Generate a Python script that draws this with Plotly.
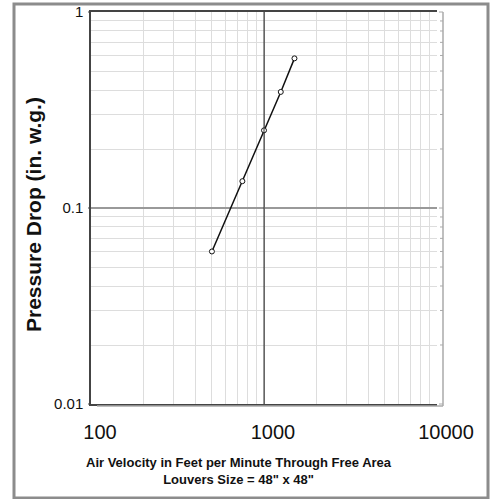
import math
import plotly.graph_objects as go

# Data
velocity_fpm = [500, 750, 1000, 1250, 1500]
pressure_drop = [0.06, 0.137, 0.249, 0.391, 0.58]

x_major = [100, 1000, 10000]
x_major_text = ["100", "1000", "10000"]
y_major = [0.01, 0.1, 1]
y_major_text = ["0.01", "0.1", "1"]
x_minor = [m * d for d in (100, 1000) for m in range(2, 10)]
y_minor = [m * d for d in (0.01, 0.1) for m in range(2, 10)]

W, H = 491, 499
PL, PR, PT, PB = 91, 437, 12, 404   # plot area in pixels
RAX = 443                           # decorative right-hand axis
FONT = "Liberation Sans, Arial, sans-serif"
DARK = "#444444"


def fx(p):
    return p / W


def fy(p):
    return 1 - p / H


def ypix(v):
    return PT + (-math.log10(v)) / 2 * (PB - PT)


fig = go.Figure()

# data series
fig.add_trace(go.Scatter(
    x=velocity_fpm, y=pressure_drop, mode="lines+markers",
    line=dict(color="#111111", width=1.5),
    marker=dict(symbol="circle", size=5, color="white",
                line=dict(color="#111111", width=1)),
    showlegend=False, hoverinfo="skip"))

# dark major vertical gridline at 1000
fig.add_trace(go.Scatter(
    x=[x_major[1], x_major[1]], y=[y_major[0], y_major[-1]], mode="lines",
    line=dict(color="#333333", width=1), showlegend=False, hoverinfo="skip"))

fig.update_layout(
    width=W, height=H,
    margin=dict(l=0, r=0, t=0, b=0, pad=0),
    paper_bgcolor="white", plot_bgcolor="white",
    font=dict(family=FONT, color="#111111"),
    xaxis=dict(
        type="log", range=[2, 4], domain=[fx(PL), fx(PR)], automargin=False,
        tickmode="array", tickvals=x_major, ticktext=x_major_text,
        tickfont=dict(size=20, color="#111111"),
        ticks="", ticklabelshift=9, ticklabelstandoff=9,
        showgrid=True, gridcolor="#9a9a9a", gridwidth=1,
        minor=dict(tickmode="array", tickvals=x_minor, showgrid=True,
                   gridcolor="#dddddd", gridwidth=1, ticks=""),
        showline=True, linecolor=DARK, linewidth=2, mirror=True,
        zeroline=False, fixedrange=True,
    ),
    yaxis=dict(
        type="log", range=[-2, 0], domain=[fy(PB), fy(PT)], automargin=False,
        tickmode="array", tickvals=y_major, ticktext=y_major_text,
        tickfont=dict(size=15, color="#111111"),
        ticks="", ticklabelstandoff=3,
        showgrid=True, gridcolor="#999999", gridwidth=2,
        minor=dict(tickmode="array", tickvals=y_minor, showgrid=True,
                   gridcolor="#dddddd", gridwidth=1, ticks=""),
        showline=True, linecolor=DARK, linewidth=1.5, mirror=False,
        zeroline=False, fixedrange=True,
    ),
)

shapes = []
# outer frame (kept inside the page so every edge is drawn)
shapes.append(dict(type="rect", xref="paper", yref="paper",
                   x0=fx(14), y0=fy(498), x1=fx(488), y1=fy(4),
                   line=dict(color="#8c8c8c", width=3)))
# decorative right-hand axis line and bottom shadow
shapes.append(dict(type="line", xref="paper", yref="paper",
                   x0=fx(RAX), y0=fy(PT), x1=fx(RAX), y1=fy(406),
                   line=dict(color="#aaaaaa", width=1.5)))
shapes.append(dict(type="line", xref="paper", yref="paper",
                   x0=fx(97), y0=fy(406), x1=fx(RAX), y1=fy(406),
                   line=dict(color="#aaaaaa", width=1.5)))
# right-hand axis ticks
for v in y_major + y_minor:
    tl = 4 if v in y_major else 3
    shapes.append(dict(type="line", xref="paper", yref="paper",
                       x0=fx(RAX - tl), y0=fy(ypix(v)), x1=fx(RAX), y1=fy(ypix(v)),
                       line=dict(color="#aaaaaa", width=1)))
# small left ticks at major values
for v in y_major:
    shapes.append(dict(type="line", xref="paper", yref="paper",
                       x0=fx(PL - 3), y0=fy(ypix(v)), x1=fx(PL), y1=fy(ypix(v)),
                       line=dict(color=DARK, width=1)))
fig.update_layout(shapes=shapes)

# y-axis title (rotated annotation)
fig.add_annotation(
    text="<b>Pressure Drop (in. w.g.)</b>", textangle=-90,
    xref="paper", yref="paper", x=fx(33), y=fy(215),
    showarrow=False, font=dict(size=21, family=FONT, color="#111111"),
    xanchor="center", yanchor="middle")

# x-axis title (two lines)
fig.add_annotation(
    text="<b>Air Velocity in Feet per Minute Through Free Area</b><br><b>Louvers Size = 48\" x 48\"</b>",
    xref="paper", yref="paper", x=fx(239), y=fy(471),
    showarrow=False, font=dict(size=13, family=FONT, color="#111111"),
    xanchor="center", yanchor="middle", align="center")

fig.write_html("out.html", config={"displayModeBar": False},
               post_script="document.body.style.margin='0px';")
